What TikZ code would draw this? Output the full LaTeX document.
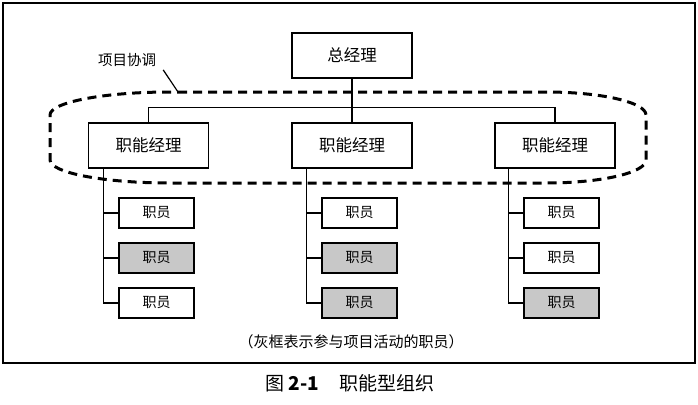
\documentclass[tikz,border=0pt]{standalone}
\usepackage{fontspec}
\setmainfont{Noto Sans CJK SC}
\definecolor{pgray}{HTML}{C8C8C8}
\tikzset{
  mgr/.style={draw, line width=1.4pt, minimum width=120pt, minimum height=45pt, inner sep=0pt, font=\fontsize{16.5}{17}\selectfont},
  staff/.style={draw, line width=1.4pt, minimum width=75pt, minimum height=30pt, inner sep=0pt, font=\fontsize{14}{15}\selectfont},
  part/.style={staff, fill=pgray},
  conn/.style={line width=1.1pt},
  coord/.style={line width=3pt, dash pattern=on 9pt off 6pt}
}
\begin{document}
\begin{tikzpicture}[x=1pt,y=-1pt]
\useasboundingbox (0,0) rectangle (698,404);
\draw[line width=1.8pt] (3,3) rectangle (695,363);

\node[mgr] (gm) at (352,55.5) {总经理};
\node[mgr] (fm1) at (148.5,145.5) {职能经理};
\node[mgr] (fm2) at (352,145.5) {职能经理};
\node[mgr] (fm3) at (555,145.5) {职能经理};

\node[staff] (s11) at (156.5,213) {职员};
\node[part]  (s12) at (156.5,258) {职员};
\node[staff] (s13) at (156.5,303) {职员};
\node[staff] (s21) at (359.5,213) {职员};
\node[part]  (s22) at (359.5,258) {职员};
\node[part]  (s23) at (359.5,303) {职员};
\node[staff] (s31) at (561.5,213) {职员};
\node[staff] (s32) at (561.5,258) {职员};
\node[part]  (s33) at (561.5,303) {职员};

\draw[conn] (gm.south) -- (fm2.north);
\draw[conn] (fm1.north) -- ++(0,-15) -| (fm3.north);

\coordinate (c1) at ([xshift=16pt]fm1.south west);
\coordinate (c2) at ([xshift=15pt]fm2.south west);
\coordinate (c3) at ([xshift=14pt]fm3.south west);
\draw[conn] (c1) |- (s13.west);
\draw[conn] (s11.west) -| (c1);
\draw[conn] (s12.west) -| (c1);
\draw[conn] (c2) |- (s23.west);
\draw[conn] (s21.west) -| (c2);
\draw[conn] (s22.west) -| (c2);
\draw[conn] (c3) |- (s33.west);
\draw[conn] (s31.west) -| (c3);
\draw[conn] (s32.west) -| (c3);

\draw[coord] (178,92) -- (546,92)
  arc[start angle=90, end angle=0, x radius=100, y radius=-23]
  -- (646,160)
  arc[start angle=0, end angle=-90, x radius=100, y radius=-23]
  -- (170,183)
  arc[start angle=-90, end angle=-180, x radius=120, y radius=-23]
  -- (50,115)
  arc[start angle=180, end angle=90, x radius=120, y radius=-23]
  -- cycle;

\node[font=\fontsize{14.5}{15}\selectfont, inner sep=0pt] (lbl) at (127,60) {项目协调};
\coordinate (lead) at (178,92);
\draw[line width=1.2pt] ([shift={(7,3)}]lbl.south east) -- (lead);

\node[font=\fontsize{15}{16}\selectfont, inner sep=0pt] (note) at (351,342) {（灰框表示参与项目活动的职员）};
\node[font=\fontsize{19}{20}\selectfont, inner sep=0pt] (cap) at (350,383) {图 \textbf{2-1}\hspace{1.1em}职能型组织};
\end{tikzpicture}
\end{document}
